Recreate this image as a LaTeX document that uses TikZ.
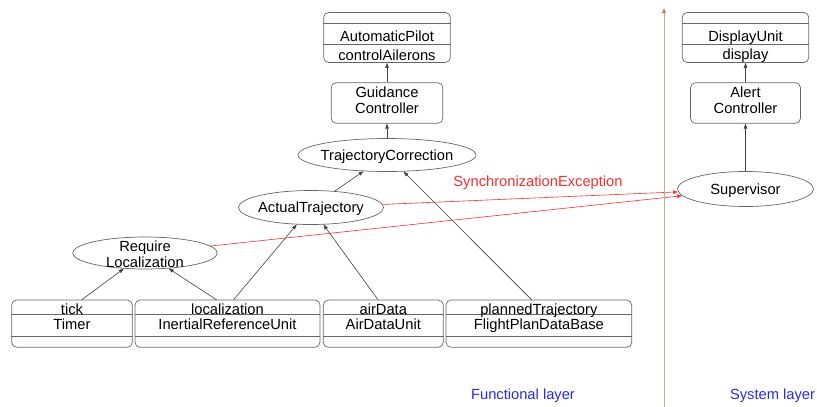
\documentclass[tikz,border=0pt]{standalone}
\usepackage{fontspec}
\setmainfont{Liberation Sans}
\usetikzlibrary{shapes.geometric,arrows.meta}
\definecolor{synred}{RGB}{255,45,45}
\definecolor{layerblue}{RGB}{40,40,245}
\definecolor{layerbrown}{RGB}{210,170,135}
\definecolor{layertip}{RGB}{190,120,70}
\begin{document}
\begin{tikzpicture}[x=1pt,y=-1pt,
  every node/.style={font=\fontsize{14.7}{17}\selectfont, text=black},
  box/.style={draw=black!60, line width=0.7pt, rounded corners=5pt, inner sep=0pt},
  sepline/.style={draw=black!60, line width=0.7pt},
  port/.style={inner sep=0pt, minimum height=14pt, text height=14pt, text depth=0pt},
  ell/.style={ellipse, draw=black!60, line width=0.7pt, inner sep=0pt},
  lbl/.style={anchor=base, inner sep=0pt},
  arr/.style={draw=black!75, line width=0.6pt, -{Triangle[length=5pt,width=3.5pt]}},
  syn/.style={draw=synred, line width=0.6pt, -{Triangle[length=5pt,width=3.5pt]}},
]
\useasboundingbox (0,0) rectangle (817,407);

% ---- top boxes ----
\node[box, minimum width=126.6pt, minimum height=50pt] (autopilot) at (387,37.5) {};
\draw[sepline] (autopilot.west |- 0,23) -- (autopilot.east |- 0,23);
\draw[sepline] (autopilot.west |- 0,44.3) -- (autopilot.east |- 0,44.3);
\node[lbl] (autopilotname) at (387,41) {AutomaticPilot};
\node[lbl] (ctrlail) at (387,60.3) {controlAilerons};

\node[box, minimum width=126.6pt, minimum height=50pt] (display) at (745.5,37.5) {};
\draw[sepline] (display.west |- 0,23) -- (display.east |- 0,23);
\draw[sepline] (display.west |- 0,44.3) -- (display.east |- 0,44.3);
\node[lbl] (displayname) at (745.5,41) {DisplayUnit};
\node[lbl] (displayop) at (745.5,59.5) {display};

\node[box, minimum width=111.6pt, minimum height=40.6pt] (guid) at (387,103) {};
\node[lbl] (guid1) at (387,97.5) {Guidance};
\node[lbl] (guid2) at (387,113.3) {Controller};

\node[box, minimum width=110pt, minimum height=40.6pt] (alert) at (745.5,103) {};
\node[lbl] (alert1) at (745.5,97.5) {Alert};
\node[lbl] (alert2) at (745.5,113.3) {Controller};

% ---- ellipses ----
\node[ell, minimum width=178pt, minimum height=33pt] (trc) at (387,155) {};
\node[lbl] (trctxt) at (387,160.5) {TrajectoryCorrection};
\node[ell, minimum width=145pt, minimum height=34pt] (acttraj) at (311,207.5) {};
\node[lbl] (acttxt) at (311,212) {ActualTrajectory};
\node[ell, minimum width=144.6pt, minimum height=32pt] (reqloc) at (145,253) {};
\node[lbl] (req1) at (145,251) {Require};
\node[lbl] (req2) at (145,267.5) {Localization};
\node[ell, minimum width=136pt, minimum height=35pt] (sup) at (745.5,189) {};
\node[lbl] (suptxt) at (745.5,194.5) {Supervisor};

% ---- bottom boxes ----
\node[box, minimum width=120.6pt, minimum height=47.3pt] (timer) at (72,323.65) {};
\draw[sepline] (timer.west |- 0,314) -- (timer.east |- 0,314);
\draw[sepline] (timer.west |- 0,336.7) -- (timer.east |- 0,336.7);
\node[port, minimum width=120.6pt] (tick) at (72,307) {tick};
\node[lbl] (timername) at (72,329.5) {Timer};

\node[box, minimum width=185pt, minimum height=47.3pt] (iru) at (227.5,323.65) {};
\draw[sepline] (iru.west |- 0,314) -- (iru.east |- 0,314);
\draw[sepline] (iru.west |- 0,336.7) -- (iru.east |- 0,336.7);
\node[port, minimum width=185pt] (loc) at (227.5,307) {localization};
\node[lbl] (iruname) at (227.5,329.5) {InertialReferenceUnit};

\node[box, minimum width=120pt, minimum height=47.3pt] (adu) at (383.3,323.65) {};
\draw[sepline] (adu.west |- 0,314) -- (adu.east |- 0,314);
\draw[sepline] (adu.west |- 0,336.7) -- (adu.east |- 0,336.7);
\node[port, minimum width=120pt] (airdata) at (383.3,307) {airData};
\node[lbl] (aduname) at (383.3,329.5) {AirDataUnit};

\node[box, minimum width=185.7pt, minimum height=47.3pt] (fpdb) at (538.85,323.65) {};
\draw[sepline] (fpdb.west |- 0,314) -- (fpdb.east |- 0,314);
\draw[sepline] (fpdb.west |- 0,336.7) -- (fpdb.east |- 0,336.7);
\node[port, minimum width=185.7pt] (planned) at (538.85,307) {plannedTrajectory};
\node[lbl] (fpdbname) at (538.85,329.5) {FlightPlanDataBase};

% ---- connectors ----
\draw[arr] (tick) -- (reqloc);
\draw[arr] (loc) -- (reqloc);
\draw[arr] (loc) -- (acttraj);
\draw[arr] (airdata) -- (acttraj);
\draw[arr] (planned) -- (trc);
\draw[arr] (acttraj) -- (trc);
\draw[arr] (trc) -- (guid);
\draw[arr] (guid) -- (autopilot);
\draw[arr] (sup) -- (alert);
\draw[arr] (alert) -- (display);

\draw[syn] (acttraj) -- (sup);
\draw[syn] (reqloc) -- (sup);
\node[lbl, text=synred] (synlbl) at (538,186.5) {SynchronizationException};

% ---- layer divider ----
\coordinate (divbot) at (664,407);
\coordinate (divtop) at (664,8);
\draw[draw=layerbrown, line width=0.8pt, -{Triangle[length=5pt,width=3.5pt,color=layertip]}] (divbot) -- (divtop);
\node[lbl, text=layerblue] (funclayer) at (523,399.5) {Functional layer};
\node[lbl, text=layerblue] (syslayer) at (772.5,399.5) {System layer};
\end{tikzpicture}
\end{document}
